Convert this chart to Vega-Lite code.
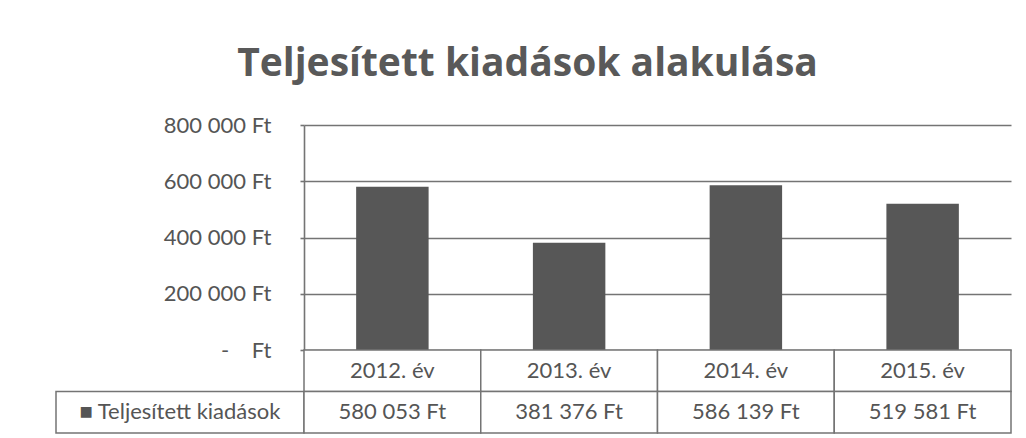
{
  "$schema": "https://vega.github.io/schema/vega-lite/v6.json",
  "padding": {"left": 55, "top": 45, "right": 16, "bottom": 4},
  "background": "white",
  "title": {"text": "Teljesített kiadások alakulása", "font": "Open Sans", "fontSize": 39, "fontWeight": "bold", "color": "#595959", "anchor": "middle", "offset": 30, "dx": -6},
  "config": {
    "locale": {"number": {"decimal": ",", "thousands": " ", "grouping": [3], "currency": ["", " Ft"]}},
    "font": "Lato",
    "view": {"stroke": null}
  },
  "datasets": {
    "kiadasok": [
      {"ev": "2012. év", "osszeg": 580053},
      {"ev": "2013. év", "osszeg": 381376},
      {"ev": "2014. év", "osszeg": 586139},
      {"ev": "2015. év", "osszeg": 519581}
    ]
  },
  "columns": 2,
  "spacing": 0,
  "bounds": "flush",
  "concat": [
    {
      "width": 248,
      "height": 225,
      "data": {"values": []},
      "mark": {"type": "point", "opacity": 0},
      "encoding": {}
    },
    {
      "width": 707,
      "height": 225,
      "data": {"name": "kiadasok"},
      "mark": {"type": "bar", "color": "#575757", "width": {"band": 0.41}},
      "encoding": {
        "x": {"field": "ev", "type": "nominal", "sort": null, "scale": {"paddingInner": 0, "paddingOuter": 0}, "axis": null},
        "y": {
          "field": "osszeg", "type": "quantitative", "scale": {"domain": [0, 800000]},
          "axis": {
            "values": [0, 200000, 400000, 600000, 800000],
            "format": "$,.0f",
            "labelExpr": "datum.value === 0 ? '-\u00a0\u00a0\u00a0\u00a0Ft' : datum.label",
            "grid": true, "gridColor": "#747474", "gridWidth": 1.6,
            "domainColor": "#747474", "domainWidth": 1.6,
            "tickColor": "#747474", "tickSize": 4, "tickWidth": 1.6,
            "labelFontSize": 22, "labelColor": "#555555", "labelPadding": 29,
            "title": null
          }
        }
      }
    },
    {
      "width": 248,
      "height": 83,
      "data": {"values": [{"sor": "■ Teljesített kiadások"}]},
      "encoding": {
        "x": {"datum": "lbl", "type": "nominal", "scale": {"paddingInner": 0, "paddingOuter": 0}, "axis": null},
        "y": {"datum": "val", "type": "nominal", "scale": {"domain": ["cat", "val"], "paddingInner": 0, "paddingOuter": 0}, "axis": null}
      },
      "layer": [
        {"mark": {"type": "rect", "fill": "white", "stroke": "#747474", "strokeWidth": 1.5}},
        {"mark": {"type": "text", "fontSize": 22, "color": "#555555"}, "encoding": {"text": {"field": "sor"}}}
      ]
    },
    {
      "width": 707,
      "height": 83,
      "data": {"name": "kiadasok"},
      "encoding": {
        "x": {"field": "ev", "type": "nominal", "sort": null, "scale": {"paddingInner": 0, "paddingOuter": 0}, "axis": null}
      },
      "layer": [
        {"mark": {"type": "rect", "fill": "white", "stroke": "#747474", "strokeWidth": 1.5},
         "encoding": {"y": {"datum": "cat", "type": "nominal", "scale": {"domain": ["cat", "val"], "paddingInner": 0, "paddingOuter": 0}, "axis": null}}},
        {"mark": {"type": "text", "fontSize": 22, "color": "#555555"},
         "encoding": {"y": {"datum": "cat", "type": "nominal", "axis": null}, "text": {"field": "ev"}}},
        {"mark": {"type": "rect", "fill": "white", "stroke": "#747474", "strokeWidth": 1.5},
         "encoding": {"y": {"datum": "val", "type": "nominal", "axis": null}}},
        {"mark": {"type": "text", "fontSize": 22, "color": "#555555"},
         "encoding": {"y": {"datum": "val", "type": "nominal", "axis": null}, "text": {"field": "osszeg", "type": "quantitative", "format": "$,.0f"}}}
      ]
    }
  ]
}
